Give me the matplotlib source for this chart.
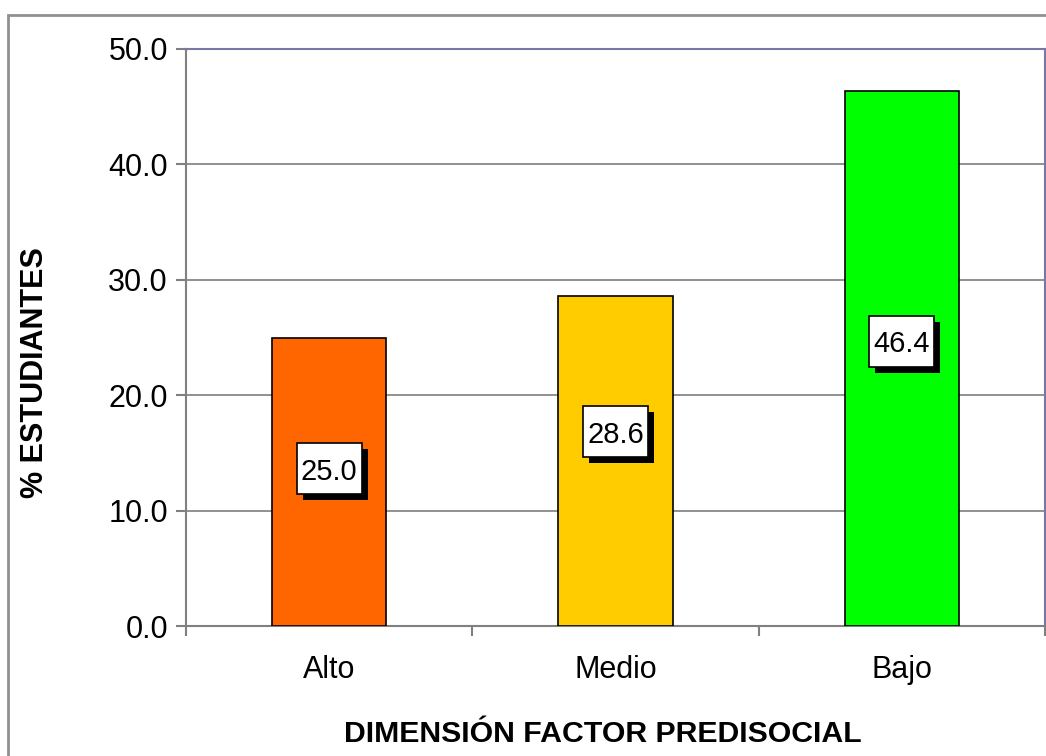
import numpy as np
import matplotlib.pyplot as plt
from matplotlib.patches import Rectangle
from matplotlib.transforms import ScaledTranslation

plt.rcParams['font.family'] = ['Liberation Sans', 'DejaVu Sans']

niveles = ["Alto", "Medio", "Bajo"]
porcentajes = [25.0, 28.6, 46.4]
colores = ["#FF6600", "#FFCC00", "#00FF00"]
# vertical nudge (pixels) of each value box above the bar's middle
desplaz = [13, 29, 17]

fig = plt.figure(figsize=(10.46, 7.56), dpi=100)
ax = fig.add_axes([186/1046, 1 - 626/756, 859/1046, 577/756])

x = np.arange(len(niveles))
ax.bar(x, porcentajes, width=0.4, color=colores, edgecolor="black", linewidth=1.2, zorder=3)

ax.set_xlim(-0.5, 2.5)
ax.set_ylim(0, 50)
ax.set_yticks(np.arange(0, 51, 10))
ax.set_yticklabels([f"{v:.1f}" for v in np.arange(0, 51, 10)])
ax.set_xticks(x)
ax.set_xticklabels(niveles)
ax.set_xticks([-0.5, 0.5, 1.5, 2.5], minor=True)
ax.tick_params(axis="x", which="major", length=0, pad=21, labelsize=22)
ax.tick_params(axis="x", which="minor", length=7, width=1.5, color="#808080")
ax.tick_params(axis="y", length=7, width=1.5, color="#808080", pad=6, labelsize=22)

ax.grid(axis="y", color="#888888", linewidth=1.3, zorder=0)
for s in ["left", "bottom"]:
    ax.spines[s].set_color("#808080")
    ax.spines[s].set_linewidth(1.5)
for s in ["top", "right"]:
    ax.spines[s].set_color("#7878a8")
    ax.spines[s].set_linewidth(1.5)

# value boxes (white with a solid black drop shadow), sized in inches
bw, bh, sh = 0.65, 0.51, 0.06
for xi, v, d in zip(x, porcentajes, desplaz):
    centro = ScaledTranslation(xi, v / 2, ax.transData)
    tr = fig.dpi_scale_trans + ScaledTranslation(0, d / 100, fig.dpi_scale_trans) + centro
    ax.add_patch(Rectangle((-bw / 2 + sh, -bh / 2 - sh), bw, bh, transform=tr,
                           fc="black", ec="black", lw=0, zorder=4))
    ax.add_patch(Rectangle((-bw / 2, -bh / 2), bw, bh, transform=tr,
                           fc="white", ec="black", lw=1.2, zorder=5))
    ax.text(0, 0, f"{v:.1f}", transform=tr, ha="center", va="center_baseline",
            fontsize=21, zorder=6)

ax.set_ylabel("% ESTUDIANTES", fontsize=22, fontweight="bold")
ax.yaxis.set_label_coords((50 - 186) / 859, 0.5 - 35 / 577)
ax.set_xlabel("DIMENSIÓN FACTOR PREDISOCIAL", fontsize=21.8, fontweight="bold")
ax.xaxis.set_label_coords(0.5 - 13 / 859, -(720 - 626) / 577)

# outer chart frame
fig.patches.append(Rectangle((8/1046, -0.05), 1.1, 1 - 15/756 + 0.05, transform=fig.transFigure,
                             fill=False, ec="#909090", lw=2))

fig.savefig("out.png", dpi=100)
